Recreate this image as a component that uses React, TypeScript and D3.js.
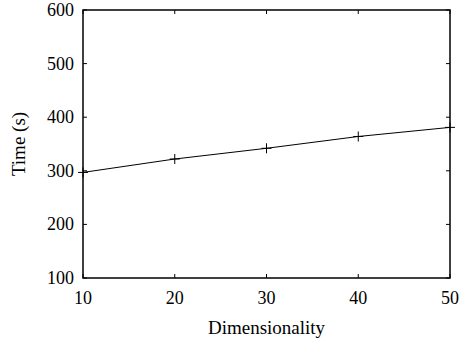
import { useEffect, useRef } from 'react'
import * as d3 from 'd3'

const dims = [10, 20, 30, 40, 50]
const times = [297, 322, 342, 364, 381]
const xTicks = [10, 20, 30, 40, 50]
const yTicks = [100, 200, 300, 400, 500, 600]

export default function App() {
  const svgRef = useRef<SVGSVGElement>(null)

  useEffect(() => {
    const width = 468
    const height = 345
    const margin = { top: 10, right: 18, bottom: 67, left: 83 }
    const svg = d3.select(svgRef.current)
    svg.selectAll('*').remove()
    svg.attr('width', width).attr('height', height)

    const x = d3.scaleLinear().domain([10, 50]).range([margin.left, width - margin.right])
    const y = d3.scaleLinear().domain([100, 600]).range([height - margin.bottom, margin.top])
    const font = "'Liberation Serif', 'Times New Roman', serif"
    const tickLen = 4

    const g = svg.append('g')

    // ticks inward on all four sides
    xTicks.forEach(t => {
      g.append('line').attr('x1', x(t)).attr('x2', x(t))
        .attr('y1', y(100)).attr('y2', y(100) - tickLen)
        .attr('stroke', '#000').attr('stroke-width', 1)
      g.append('line').attr('x1', x(t)).attr('x2', x(t))
        .attr('y1', y(600)).attr('y2', y(600) + tickLen)
        .attr('stroke', '#000').attr('stroke-width', 1)
      g.append('text').attr('x', x(t)).attr('y', y(100) + 26)
        .attr('text-anchor', 'middle').style('font-family', font).attr('font-size', 18)
        .text(t)
    })
    yTicks.forEach(t => {
      g.append('line').attr('x1', x(10)).attr('x2', x(10) + tickLen)
        .attr('y1', y(t)).attr('y2', y(t))
        .attr('stroke', '#000').attr('stroke-width', 1)
      g.append('line').attr('x1', x(50)).attr('x2', x(50) - tickLen)
        .attr('y1', y(t)).attr('y2', y(t))
        .attr('stroke', '#000').attr('stroke-width', 1)
      g.append('text').attr('x', x(10) - 9).attr('y', y(t) + 6)
        .attr('text-anchor', 'end').style('font-family', font).attr('font-size', 18)
        .text(t)
    })

    // frame
    g.append('rect')
      .attr('x', x(10)).attr('y', y(600))
      .attr('width', x(50) - x(10)).attr('height', y(100) - y(600))
      .attr('fill', 'none').attr('stroke', '#000').attr('stroke-width', 1.5)

    // line
    const line = d3.line<number>().x((d, i) => x(dims[i])).y(d => y(d))
    g.append('path').datum(times).attr('d', line)
      .attr('fill', 'none').attr('stroke', '#000').attr('stroke-width', 1)

    // + markers
    const m = 5
    times.forEach((v, i) => {
      const cx = x(dims[i]), cy = y(v)
      g.append('line').attr('x1', cx - m).attr('x2', cx + m).attr('y1', cy).attr('y2', cy)
        .attr('stroke', '#000').attr('stroke-width', 1)
      g.append('line').attr('x1', cx).attr('x2', cx).attr('y1', cy - m).attr('y2', cy + m)
        .attr('stroke', '#000').attr('stroke-width', 1)
    })

    // axis labels
    g.append('text').attr('x', (x(10) + x(50)) / 2).attr('y', 334)
      .attr('text-anchor', 'middle').style('font-family', font).attr('font-size', 19)
      .text('Dimensionality')
    g.append('text')
      .attr('transform', `translate(25,${(y(100) + y(600)) / 2}) rotate(-90)`)
      .attr('text-anchor', 'middle').style('font-family', font).attr('font-size', 19)
      .text('Time (s)')
  }, [])

  return (
    <div style={{ position: 'absolute', left: 0, top: 0 }}>
      <svg ref={svgRef}></svg>
    </div>
  )
}
